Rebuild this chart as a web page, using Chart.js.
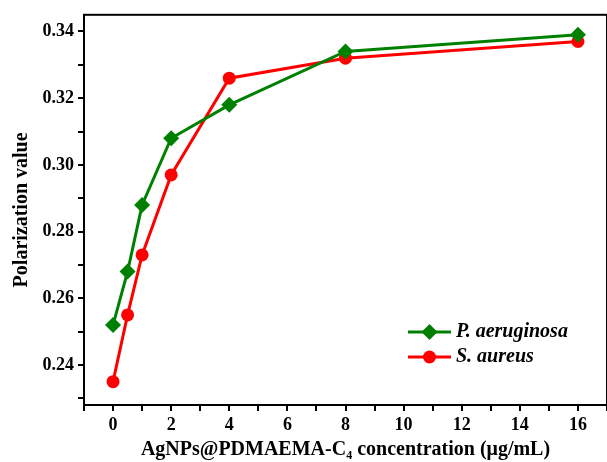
<!DOCTYPE html>
<html>
<head>
<meta charset="utf-8">
<script src="https://cdn.jsdelivr.net/npm/chart.js@4.4.0/dist/chart.umd.min.js"></script>
<style>
html, body { margin: 0; padding: 0; background: #fff; }
#wrap { width: 607px; height: 462px; }
</style>
</head>
<body>
<div id="wrap"><canvas id="chart"></canvas></div>
<script>
// data
var concentrations = [0, 0.5, 1, 2, 4, 8, 16];
var pAeruginosa = [0.252, 0.268, 0.288, 0.308, 0.318, 0.334, 0.339];
var sAureus = [0.235, 0.255, 0.273, 0.297, 0.326, 0.332, 0.337];
var xTickLabels = [0, 2, 4, 6, 8, 10, 12, 14, 16];
var yTickLabels = [0.24, 0.26, 0.28, 0.30, 0.32, 0.34];

var serif = "'Liberation Serif', 'Times New Roman', serif";

function toPoints(xs, ys) {
	var pts = [];
	for (var i = 0; i < xs.length; i++) {
		pts.push({x: xs[i], y: ys[i]});
	}
	return pts;
}

// frame on top and right like the origin plot
var framePlugin = {
	id: 'frame',
	afterDraw: function (chart) {
		var a = chart.chartArea;
		var ctx = chart.ctx;
		ctx.save();
		ctx.strokeStyle = '#000';
		ctx.lineWidth = 2;
		ctx.strokeRect(a.left, a.top, a.right - a.left, a.bottom - a.top);
		ctx.restore();
	}
};

// legend sits inside the plot, lower right
var legendPlugin = {
	id: 'insideLegend',
	afterDraw: function (chart) {
		var ctx = chart.ctx;
		var x0 = 408, x1 = 451, y = 332;
		ctx.save();
		chart.data.datasets.forEach(function (ds, i) {
			var yy = y + i * 25;
			ctx.strokeStyle = ds.borderColor;
			ctx.lineWidth = 3;
			ctx.beginPath();
			ctx.moveTo(x0, yy);
			ctx.lineTo(x1, yy);
			ctx.stroke();
			ctx.fillStyle = ds.backgroundColor;
			Chart.helpers.drawPoint(ctx, {pointStyle: ds.pointStyle, radius: ds.pointRadius, borderWidth: 0}, (x0 + x1) / 2, yy);
			ctx.fillStyle = '#000';
			ctx.font = 'italic bold 20px ' + serif;
			ctx.textBaseline = 'middle';
			ctx.fillText(ds.label, 456, yy);
		});
		ctx.restore();
	}
};

var ctx = document.getElementById('chart').getContext('2d');
new Chart(ctx, {
	type: 'line',
	data: {
		datasets: [
			{
				label: 'P. aeruginosa',
				data: toPoints(concentrations, pAeruginosa),
				borderColor: '#008000',
				backgroundColor: '#008000',
				borderWidth: 3,
				pointStyle: 'rectRot',
				pointRadius: 8,
				pointBorderWidth: 0,
				tension: 0
			},
			{
				label: 'S. aureus',
				data: toPoints(concentrations, sAureus),
				borderColor: '#ff0000',
				backgroundColor: '#ff0000',
				borderWidth: 3,
				pointStyle: 'circle',
				pointRadius: 6.5,
				pointBorderWidth: 0,
				tension: 0
			}
		]
	},
	options: {
		responsive: true,
		maintainAspectRatio: false,
		animation: false,
		layout: { autoPadding: false, padding: { top: 14, right: 0, left: 0, bottom: 0 } },
		plugins: {
			legend: { display: false },
			tooltip: { enabled: false }
		},
		scales: {
			x: {
				type: 'linear',
				min: -1,
				max: 17,
				afterBuildTicks: function (scale) {
					var t = [];
					for (var v = -1; v <= 17; v++) t.push({value: v});
					scale.ticks = t;
				},
				afterFit: function (scale) {
					scale.height = 57;
					scale.paddingLeft = 0;
					scale.paddingRight = 0;
				},
				ticks: {
					autoSkip: false,
					maxRotation: 0,
					padding: 4,
					color: '#000',
					font: { family: serif, size: 18, weight: 'bold' },
					callback: function (v) { return xTickLabels.indexOf(v) >= 0 ? String(v) : ''; }
				},
				grid: { drawOnChartArea: false, drawTicks: true, tickLength: 6, color: '#000', lineWidth: 2 },
				border: { display: true, color: '#000', width: 2 },
				title: {
					display: true,
					text: 'AgNPs@PDMAEMA-C\u2084 concentration (\u03bcg/mL)',
					color: '#000',
					font: { family: serif, size: 20, weight: 'bold' },
					padding: { top: 0, bottom: 0 }
				}
			},
			y: {
				min: 0.228,
				max: 0.345,
				afterBuildTicks: function (scale) {
					var t = [];
					for (var v = 23; v <= 34; v++) t.push({value: v / 100});
					scale.ticks = t;
				},
				afterFit: function (scale) { scale.width = 84; },
				ticks: {
					autoSkip: false,
					padding: 4,
					color: '#000',
					font: { family: serif, size: 18, weight: 'bold' },
					callback: function (v) {
						for (var i = 0; i < yTickLabels.length; i++) {
							if (Math.abs(yTickLabels[i] - v) < 1e-6) return v.toFixed(2);
						}
						return '';
					}
				},
				grid: { drawOnChartArea: false, drawTicks: true, tickLength: 6, color: '#000', lineWidth: 2 },
				border: { display: true, color: '#000', width: 2 },
				title: {
					display: true,
					text: 'Polarization value',
					color: '#000',
					font: { family: serif, size: 20, weight: 'bold' },
					padding: { top: 10, bottom: 4 }
				}
			}
		}
	},
	plugins: [framePlugin, legendPlugin]
});
</script>
</body>
</html>
